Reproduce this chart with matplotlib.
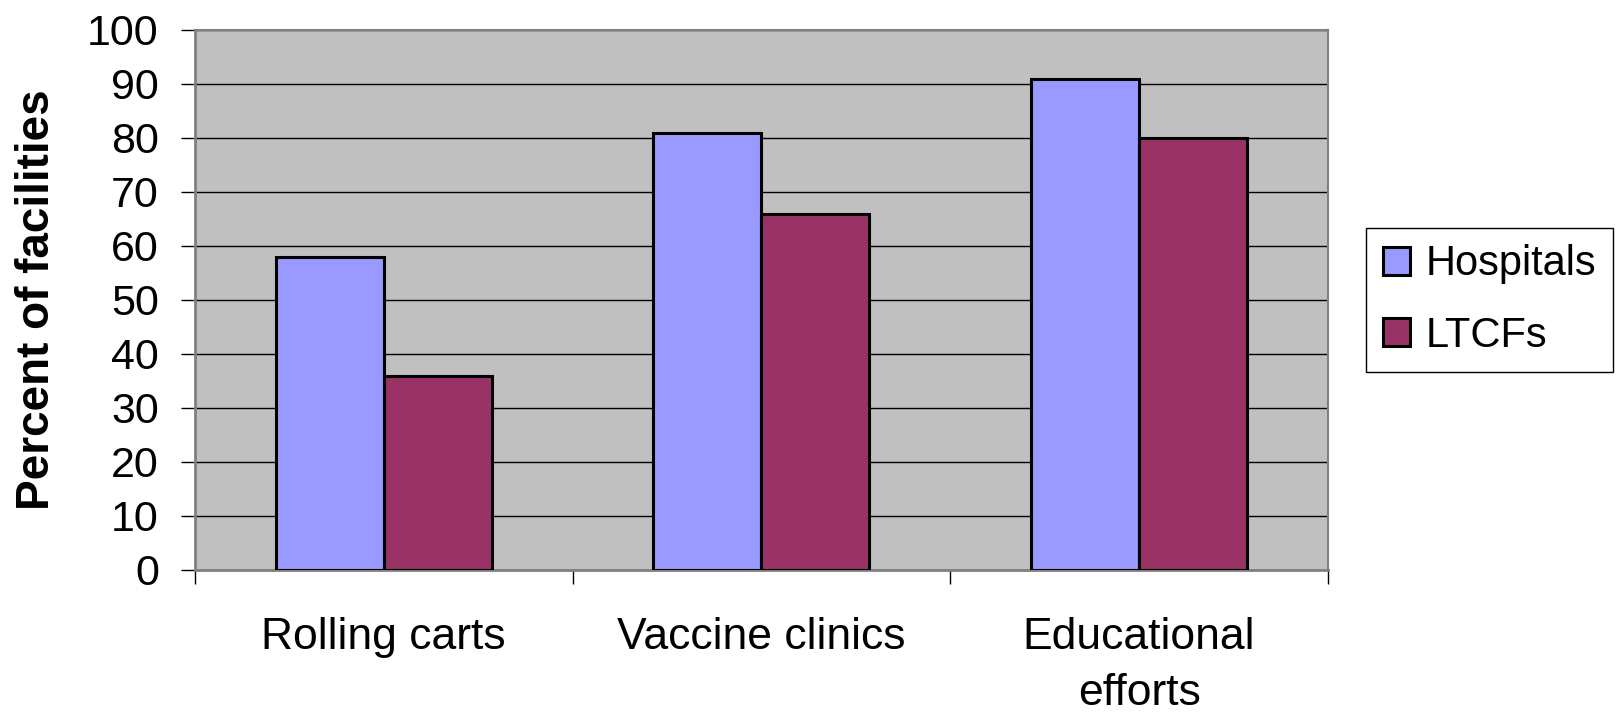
import matplotlib
matplotlib.use("Agg")
import matplotlib.pyplot as plt
import numpy as np
from matplotlib.ticker import FixedLocator, NullFormatter

categories = ["Rolling carts", "Vaccine clinics", "Educational\nefforts"]
series_names = ["Hospitals", "LTCFs"]
hospitals = [58, 81, 91]
ltcfs = [36, 66, 80]
y_ticks = [0, 10, 20, 30, 40, 50, 60, 70, 80, 90, 100]
y_label = "Percent of facilities"

colors = ["#9999FF", "#993366"]

plt.rcParams['font.family'] = ['Liberation Sans', 'DejaVu Sans']

fig = plt.figure(figsize=(16.23, 7.14), dpi=100)
ax = fig.add_axes([0.1201, 0.2017, 0.8182 - 0.1201, 0.958 - 0.2017])
ax.set_facecolor("#C0C0C0")

x = np.arange(len(categories))
bw = 0.286
ax.bar(x - bw / 2, hospitals, bw, color=colors[0], edgecolor="black", linewidth=2.2, label=series_names[0], zorder=3)
ax.bar(x + bw / 2, ltcfs, bw, color=colors[1], edgecolor="black", linewidth=2.2, label=series_names[1], zorder=3)

ax.set_xlim(-0.5, len(categories) - 0.5)
ax.set_ylim(0, 100)
ax.set_yticks(y_ticks)
ax.set_yticklabels([str(v) for v in y_ticks], fontsize=31)
ax.yaxis.grid(True, color="black", linewidth=1.0, zorder=0)
ax.set_axisbelow(True)

ax.set_xticks(x)
ax.set_xticklabels(categories, fontsize=32, linespacing=1.45)
ax.tick_params(axis="x", which="major", length=0, pad=34)
ax.xaxis.set_minor_locator(FixedLocator(list(np.arange(len(categories) + 1) - 0.5)))
ax.xaxis.set_minor_formatter(NullFormatter())
ax.tick_params(axis="x", which="minor", length=10, width=1.0, color="black")
ax.tick_params(axis="y", length=10, width=1.0, color="black", pad=16)

for s in ["top", "right"]:
    ax.spines[s].set_color("#808080")
    ax.spines[s].set_linewidth(1.5)
ax.spines["left"].set_color("#808080")
ax.spines["left"].set_linewidth(2)
ax.spines["bottom"].set_color("#808080")
ax.spines["bottom"].set_linewidth(2)

ax.set_ylabel(y_label, fontsize=33, fontweight="bold", labelpad=20)

leg = ax.legend(loc="center left", bbox_to_anchor=(1.034, 0.5), fontsize=30,
                frameon=True, fancybox=False, edgecolor="black", framealpha=1,
                handlelength=0.65, handleheight=0.65, handletextpad=0.36,
                labelspacing=0.75, borderpad=0.4, borderaxespad=0)
leg.get_frame().set_linewidth(1.0)

fig.savefig("out.png", dpi=100, facecolor="white")
